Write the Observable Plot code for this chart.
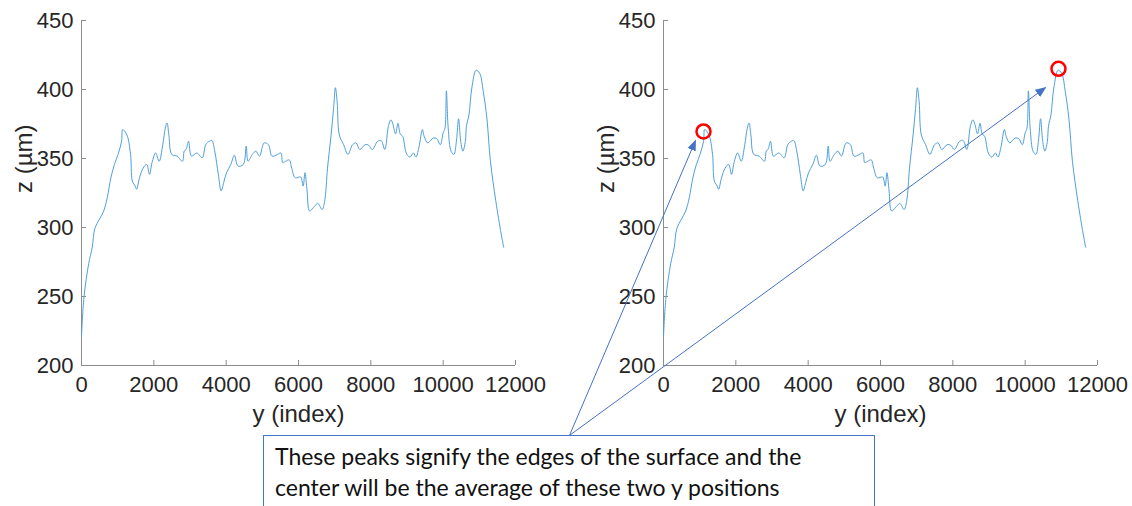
<!DOCTYPE html>
<html><head><meta charset="utf-8">
<script src="https://cdn.jsdelivr.net/npm/d3@7"></script>
<script src="https://cdn.jsdelivr.net/npm/@observablehq/plot@0.6"></script>
<style>
body{margin:0;background:#fff;}
#wrap{position:relative;width:1132px;height:506px;overflow:hidden;background:#fff;}
#left,#right{position:absolute;top:0;}
#left{left:0px;} #right{left:566px;}
#right svg, #left svg{overflow:visible;}
#note{position:absolute;left:263px;top:435px;width:612px;height:100px;border:1px solid #4472c4;box-sizing:border-box;font-family:Lato,"Open Sans",sans-serif;font-size:23px;line-height:31px;padding:5px 11px;color:#111;background:#fff;white-space:nowrap;}
</style></head>
<body>
<div id="wrap">
  <div id="left"></div>
  <div id="note">These peaks signify the edges of the surface and the<br>center will be the average of these two y positions</div>
  <div id="right"></div>
</div>
<script>
// profile samples: y index and z height (µm)
const yIndex = [0,69,198,297,366,495,614,713,812,911,1010,1109,1139,1257,1356,1406,1485,1524,1604,1703,1802,1881,1950,2049,2148,2247,2317,2366,2416,2495,2644,2792,2842,2891,2960,3040,3188,3337,3436,3535,3604,3683,3782,3861,3931,4010,4129,4228,4327,4475,4554,4604,4723,4822,4921,5050,5168,5267,5416,5515,5564,5644,5743,5812,5911,6059,6129,6178,6238,6307,6455,6535,6653,6723,6802,6901,6970,7020,7069,7129,7248,7366,7495,7594,7693,7842,7941,8040,8188,8287,8386,8485,8554,8614,8683,8752,8812,8881,8980,9079,9178,9248,9327,9426,9475,9574,9723,9822,9921,10000,10050,10089,10139,10218,10297,10366,10426,10485,10545,10614,10644,10713,10792,10911,11010,11109,11208,11307,11455,11604,11673];
const zHeight = [221,249.7,273.7,285.7,299,306,312,321.7,336,345.7,352.9,362.5,371,367,353,333.6,330,327.7,336,343,345.7,338.5,347,354,348,360,372,375.7,367,353,351.7,348,355.5,356.6,362.5,351.7,354,350.5,360,362.5,363,355.5,338.6,326.5,332.5,339.7,345.7,352.4,344.5,345.7,358.9,348,352.9,355.3,351.7,361.3,360,351.7,352.9,354,347,348,349,343,336,336.6,330,339.7,326.5,312,315.7,317.5,313,319,343,367,386.4,401.3,391,367,360,353,360,361.3,356.5,360,359.6,356.5,362.5,363,356.5,373.3,378,374.5,367.8,375.6,367.8,366,354,351,354,351,357.7,371,366,361.3,364.8,364.4,360,368.6,372,399,372,355.3,352.9,362.5,378.8,362.5,355.3,362.5,373.4,381.7,401,414,411.7,398.5,379.3,348,319.3,295.3,285.7];
const xTicks = [0,2000,4000,6000,8000,10000,12000];
const zTicks = [200,250,300,350,400,450];
const xLabel = "y (index)";
const zLabel = "z (µm)";
// annotation: marked peaks (right panel)
const peakIndex = [1106, 10921];
const peakZ = [369.6, 415];
// arrows from the note box to the peaks (data coordinates of right panel)
const arrowFromIndex = [-2600, -2600];
const arrowFromZ = [149.3, 149.3];
const arrowToIndex = [885, 10562];
const arrowToZ = [363, 401.4];

const profile = yIndex.map((y, i) => ({y, z: zHeight[i]}));
const peaks = peakIndex.map((y, i) => ({y, z: peakZ[i]}));
const arrows = arrowFromIndex.map((v, i) => ({x1: v, y1: arrowFromZ[i], x2: arrowToIndex[i], y2: arrowToZ[i]}));

function filledArrow(color) {
  const m = d3.create("svg:marker")
    .attr("viewBox", "0 -5 10 10")
    .attr("markerWidth", 11).attr("markerHeight", 11)
    .attr("markerUnits", "userSpaceOnUse")
    .attr("orient", "auto").attr("refX", 9).attr("refY", 0)
    .attr("fill", color).attr("stroke", "none");
  m.append("path").attr("d", "M0,-4L10,0L0,4Z");
  return m.node();
}

function chart(annotated, fancyHead) {
  const marks = [
    Plot.ruleY([200], {stroke: "#8c8c8c", strokeWidth: 1}),
    Plot.ruleX([0], {stroke: "#8c8c8c", strokeWidth: 1}),
    Plot.axisX({ticks: xTicks, tickSize: -5, tickPadding: 16, tickFormat: d => String(d), fontSize: 22, stroke: "#8c8c8c", fill: "#262626", label: null}),
    Plot.axisY({ticks: zTicks, tickSize: -5, tickPadding: 13, tickFormat: d => String(d), fontSize: 22, stroke: "#8c8c8c", fill: "#262626", label: null}),
    Plot.text([xLabel], {frameAnchor: "bottom", dy: 56, fontSize: 24, fill: "#262626", text: d => d}),
    Plot.text([zLabel], {frameAnchor: "left", dx: -57, rotate: -90, fontSize: 24, fill: "#262626", text: d => d}),
    Plot.line(profile, {x: "y", y: "z", stroke: "#4f9fdb", strokeWidth: 1, curve: "catmull-rom"})
  ];
  if (annotated) {
    marks.push(Plot.dot(peaks, {x: "y", y: "z", r: 7, stroke: "#ff0000", strokeWidth: 2.5, fill: "none"}));
    if (fancyHead) {
      marks.push(Plot.link(arrows, {x1: "x1", y1: "y1", x2: "x2", y2: "y2", stroke: "#4472c4", strokeWidth: 1, markerEnd: filledArrow, clip: false}));
    } else {
      marks.push(Plot.arrow(arrows, {x1: "x1", y1: "y1", x2: "x2", y2: "y2", stroke: "#4472c4", strokeWidth: 1, headLength: 10, clip: false}));
    }
  }
  return Plot.plot({
    width: 566, height: 440,
    marginLeft: annotated ? 97 : 81, marginRight: annotated ? 35 : 51,
    marginTop: 20, marginBottom: 75,
    style: {fontFamily: "'Liberation Sans', Arial, sans-serif", background: "transparent", overflow: "visible"},
    x: {domain: [0, 12000]},
    y: {domain: [200, 450]},
    marks
  });
}
document.getElementById("left").appendChild(chart(false, false));
let rightChart;
try { rightChart = chart(true, true); } catch (e) { rightChart = chart(true, false); }
document.getElementById("right").appendChild(rightChart);
</script>
</body></html>
